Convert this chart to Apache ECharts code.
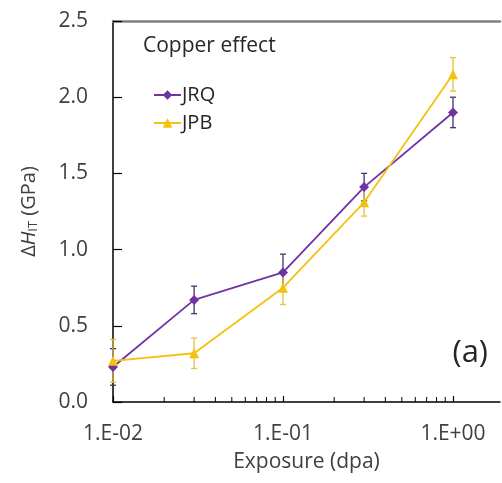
<!DOCTYPE html>
<html>
<head>
<meta charset="utf-8">
<script src="https://cdn.jsdelivr.net/npm/echarts@6/dist/echarts.min.js"></script>
<style>
  html, body { margin: 0; padding: 0; background: #fff; }
  #chart { width: 502px; height: 483px; }
</style>
</head>
<body>
<div id="chart"></div>
<script>
// Exposure levels (dpa)
const exposure = [0.01, 0.03, 0.1, 0.3, 1.0];

// Hardness increase ΔH_IT (GPa) and its uncertainty
const jrqValues = [0.23, 0.67, 0.85, 1.41, 1.90];
const jrqErrors = [0.12, 0.09, 0.12, 0.09, 0.10];
const jpbValues = [0.27, 0.32, 0.75, 1.31, 2.15];
const jpbErrors = [0.14, 0.10, 0.11, 0.09, 0.11];

const yTicks = [0, 0.5, 1.0, 1.5, 2.0, 2.5];
const xDecades = [0.01, 0.1, 1];

const FONT = 'Open Sans';
const TEXT = '#404040';
const PURPLE = '#6f33a4';
const PURPLE_BAR = '#4b2d6b';
const YELLOW = '#f4c20d';

function sciLabel(v) {
  const e = Math.round(Math.log10(v));
  const sign = e < 0 ? '-' : '+';
  const a = Math.abs(e);
  return '1.E' + sign + (a < 10 ? '0' : '') + a;
}

// minor log ticks at 2..9 within each decade
const minorTicks = [];
xDecades.forEach(d => {
  for (let k = 2; k <= 9; k++) minorTicks.push([d * k, 0]);
});

function pairs(xs, ys) { return xs.map((x, i) => [x, ys[i]]); }
function bars(xs, ys, es) { return xs.map((x, i) => [x, ys[i] - es[i], ys[i] + es[i]]); }

function errorBarRender(color) {
  return function (params, api) {
    const x = api.value(0);
    const lo = api.coord([x, api.value(1)]);
    const hi = api.coord([x, api.value(2)]);
    const cap = 3;
    const style = { stroke: color, lineWidth: 1.3 };
    return {
      type: 'group',
      children: [
        { type: 'line', shape: { x1: lo[0], y1: lo[1], x2: hi[0], y2: hi[1] }, style },
        { type: 'line', shape: { x1: lo[0] - cap, y1: lo[1], x2: lo[0] + cap, y2: lo[1] }, style },
        { type: 'line', shape: { x1: hi[0] - cap, y1: hi[1], x2: hi[0] + cap, y2: hi[1] }, style }
      ]
    };
  };
}

const chart = echarts.init(document.getElementById('chart'), null, { renderer: 'canvas' });

chart.setOption({
  animation: false,
  backgroundColor: '#ffffff',
  textStyle: { fontFamily: FONT },
  title: {
    text: 'Copper effect',
    left: 138, top: 31,
    textStyle: { fontFamily: FONT, fontSize: 21, fontWeight: 'normal', color: '#262626' }
  },
  legend: {
    orient: 'vertical',
    left: 153, top: 84,
    padding: 0,
    itemWidth: 27, itemHeight: 12, itemGap: 6,
    data: ['JRQ', 'JPB'],
    textStyle: { fontFamily: FONT, fontSize: 20, lineHeight: 22, color: '#262626', padding: [0, 0, 0, -4] }
  },
  grid: { left: 113, right: 2, top: 21, bottom: 81, containLabel: false },
  xAxis: [
    {
      type: 'log', logBase: 10, min: 0.01, max: 1.89,
      name: 'Exposure (dpa)', nameLocation: 'middle', nameGap: 50,
      nameTextStyle: { fontFamily: FONT, fontSize: 21, color: TEXT },
      axisLine: { lineStyle: { color: '#000', width: 1.5 } },
      axisTick: { inside: true, length: 6, lineStyle: { color: '#000', width: 1.2 } },
      axisLabel: {
        margin: 22, fontFamily: FONT, fontSize: 21, color: TEXT,
        formatter: v => sciLabel(v), showMaxLabel: false
      },
      splitLine: { show: false }
    },
    {
      type: 'log', logBase: 10, min: 0.01, max: 1.89, position: 'top',
      axisLine: { lineStyle: { color: '#7f7f7f', width: 2.5 } },
      axisTick: { show: false }, axisLabel: { show: false }, splitLine: { show: false }
    }
  ],
  yAxis: {
    type: 'value', min: 0, max: 2.5, interval: 0.5,
    name: 'Δ{i|H}{s|IT} (GPa)', nameLocation: 'middle', nameGap: 73,
    nameTextStyle: {
      fontFamily: FONT, fontSize: 20, color: TEXT,
      rich: {
        i: { fontFamily: FONT, fontSize: 20, fontStyle: 'italic', color: TEXT },
        s: { fontFamily: FONT, fontSize: 13, color: TEXT, verticalAlign: 'bottom', padding: [9, 0, 0, 0] }
      }
    },
    axisLine: { show: true, lineStyle: { color: '#000', width: 1.5 } },
    axisTick: { show: true, inside: true, length: 9, lineStyle: { color: '#000', width: 1.2 } },
    axisLabel: {
      margin: 25, fontFamily: FONT, fontSize: 21, color: TEXT,
      formatter: v => v.toFixed(1)
    },
    splitLine: { show: false }
  },
  graphic: [{
    type: 'text', x: 488, y: 353,
    style: { text: '(a)', font: '31px "' + FONT + '"', fill: '#262626', align: 'right', verticalAlign: 'middle' }
  }],
  series: [
    {
      name: 'minorTicks', type: 'custom', silent: true, z: 1,
      data: minorTicks,
      renderItem: function (params, api) {
        const p = api.coord([api.value(0), 0]);
        return { type: 'line', shape: { x1: p[0], y1: p[1], x2: p[0], y2: p[1] - 5 },
                 style: { stroke: '#000', lineWidth: 1 } };
      }
    },
    {
      name: 'jrqErr', type: 'custom', z: 3, silent: true,
      data: bars(exposure, jrqValues, jrqErrors),
      renderItem: errorBarRender(PURPLE_BAR)
    },
    {
      name: 'jpbErr', type: 'custom', z: 3, silent: true,
      data: bars(exposure, jpbValues, jpbErrors),
      renderItem: errorBarRender('#e8c040')
    },
    {
      name: 'JRQ', type: 'line', z: 4,
      data: pairs(exposure, jrqValues),
      symbol: 'diamond', symbolSize: 10,
      lineStyle: { color: PURPLE, width: 1.8 },
      itemStyle: { color: PURPLE }
    },
    {
      name: 'JPB', type: 'line', z: 5,
      data: pairs(exposure, jpbValues),
      symbol: 'triangle', symbolSize: 10,
      lineStyle: { color: YELLOW, width: 1.8 },
      itemStyle: { color: YELLOW }
    }
  ]
});
</script>
</body>
</html>
